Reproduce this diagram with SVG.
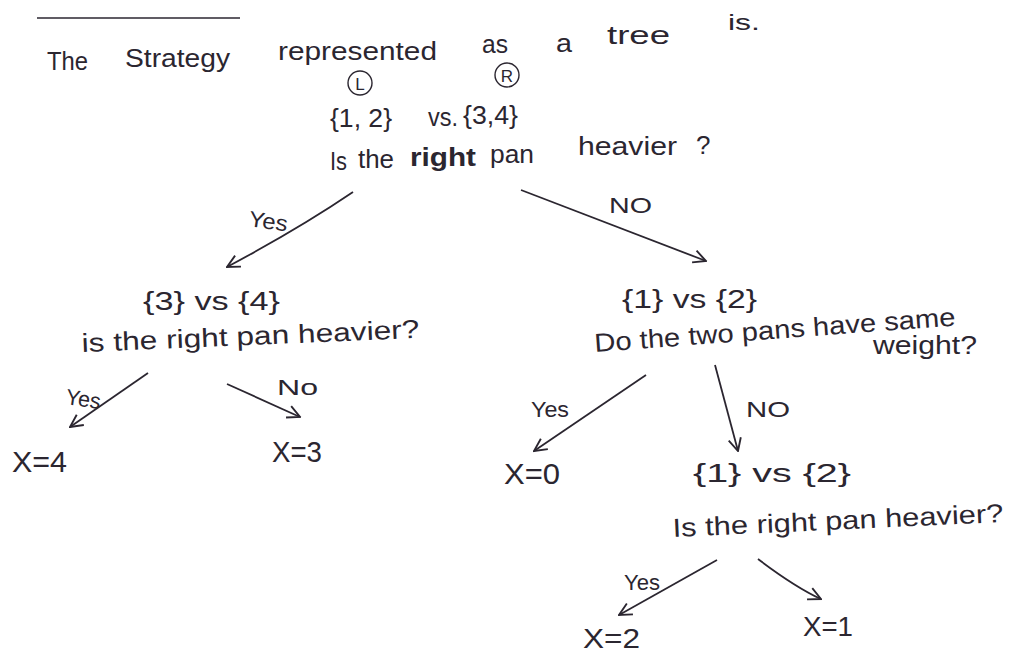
<svg xmlns="http://www.w3.org/2000/svg" width="1019" height="653" viewBox="0 0 1019 653">
<defs>
<marker id="ah" viewBox="0 0 12 12" refX="11" refY="6" markerWidth="15" markerHeight="15" markerUnits="userSpaceOnUse" orient="auto">
<path d="M1,1 L11,6 L1,11" fill="none" stroke="#2b2630" stroke-width="1.5"/>
</marker>
<style>
text{font-family:"Liberation Sans",Arial,sans-serif;fill:#2b2630;font-size:26px}
.s{font-size:22px}
.b{font-weight:bold}
.e{stroke:#2b2630;stroke-width:1.8;fill:none;marker-end:url(#ah)}
</style>
</defs>
<rect width="1019" height="653" fill="#ffffff"/>
<g id="title">
<line x1="37" y1="18" x2="240" y2="18" stroke="#2b2630" stroke-width="1.5"/>
<text x="47" y="70" textLength="41" lengthAdjust="spacingAndGlyphs">The</text>
<text x="125" y="67" textLength="105" lengthAdjust="spacingAndGlyphs">Strategy</text>
<text x="278" y="60" textLength="159" lengthAdjust="spacingAndGlyphs">represented</text>
<text x="482" y="53" textLength="26" lengthAdjust="spacingAndGlyphs">as</text>
<text x="556" y="52" textLength="16" lengthAdjust="spacingAndGlyphs">a</text>
<text x="607" y="44" textLength="63" lengthAdjust="spacingAndGlyphs">tree</text>
<text x="728" y="30" class="s" textLength="32" lengthAdjust="spacingAndGlyphs">is.</text>
</g>
<g id="n1">
<circle cx="360" cy="83" r="12" fill="none" stroke="#2b2630" stroke-width="1.4"/>
<text x="360" y="90" text-anchor="middle" style="font-size:17px">L</text>
<circle cx="507" cy="75" r="12" fill="none" stroke="#2b2630" stroke-width="1.4"/>
<text x="507" y="82" text-anchor="middle" style="font-size:17px">R</text>
<text x="330" y="127" textLength="62" lengthAdjust="spacingAndGlyphs">{1, 2}</text>
<text x="428" y="126" textLength="30" lengthAdjust="spacingAndGlyphs">vs.</text>
<text x="463" y="124" textLength="55" lengthAdjust="spacingAndGlyphs">{3,4}</text>
<text x="330" y="170" textLength="17" lengthAdjust="spacingAndGlyphs">Is</text>
<text x="358" y="168" textLength="36" lengthAdjust="spacingAndGlyphs">the</text>
<text x="410" y="166" class="b" textLength="66" lengthAdjust="spacingAndGlyphs">right</text>
<text x="490" y="163" textLength="44" lengthAdjust="spacingAndGlyphs">pan</text>
<text x="578" y="155" textLength="99" lengthAdjust="spacingAndGlyphs">heavier</text>
<text x="696" y="154">?</text>
</g>
<g id="n2">
<text x="143" y="310" textLength="137" lengthAdjust="spacingAndGlyphs">{3} vs {4}</text>
<text x="82" y="352" textLength="338" lengthAdjust="spacingAndGlyphs" transform="rotate(-2.4 82 352)">is the right pan heavier?</text>
</g>
<g id="n3">
<text x="622" y="308" textLength="135" lengthAdjust="spacingAndGlyphs">{1} vs {2}</text>
<text x="595" y="352" textLength="362" lengthAdjust="spacingAndGlyphs" transform="rotate(-4.2 595 352)">Do the two pans have same</text>
<text x="873" y="354" textLength="104" lengthAdjust="spacingAndGlyphs">weight?</text>
</g>
<g id="n4">
<text x="12" y="472" textLength="55" lengthAdjust="spacingAndGlyphs" style="font-size:30px">X=4</text>
</g>
<g id="n5">
<text x="272" y="462" textLength="50" lengthAdjust="spacingAndGlyphs" style="font-size:30px">X=3</text>
</g>
<g id="n6">
<text x="504" y="484" textLength="56" lengthAdjust="spacingAndGlyphs" style="font-size:30px">X=0</text>
</g>
<g id="n7">
<text x="693" y="482" textLength="158" lengthAdjust="spacingAndGlyphs">{1} vs {2}</text>
<text x="673" y="537" textLength="331" lengthAdjust="spacingAndGlyphs" transform="rotate(-2.6 673 537)">Is the right pan heavier?</text>
</g>
<g id="n8">
<text x="583" y="648" textLength="57" lengthAdjust="spacingAndGlyphs" style="font-size:28px">X=2</text>
</g>
<g id="n9">
<text x="803" y="636" textLength="50" lengthAdjust="spacingAndGlyphs" style="font-size:28px">X=1</text>
</g>
<g id="edges">
<path class="e" d="M353,192 Q300,228 227,267"/>
<path class="e" d="M521,190 L706,261"/>
<path class="e" d="M148,373 L70,427"/>
<path class="e" d="M227,384 L300,417"/>
<path class="e" d="M646,375 L534,451"/>
<path class="e" d="M715,365 L738,451"/>
<path class="e" d="M717,560 L619,615"/>
<path class="e" d="M758,559 Q795,587 821,599"/>
</g>
<g id="labels">
<text x="248" y="226" class="s" textLength="39" lengthAdjust="spacingAndGlyphs" transform="rotate(8 248 226)">Yes</text>
<text x="609" y="213" class="s" textLength="43" lengthAdjust="spacingAndGlyphs">NO</text>
<text x="65" y="404" class="s" textLength="35" lengthAdjust="spacingAndGlyphs" transform="rotate(8 65 404)">Yes</text>
<text x="277" y="395" class="s" textLength="41" lengthAdjust="spacingAndGlyphs">No</text>
<text x="531" y="417" class="s" textLength="38" lengthAdjust="spacingAndGlyphs">Yes</text>
<text x="746" y="417" class="s" textLength="44" lengthAdjust="spacingAndGlyphs">NO</text>
<text x="624" y="590" class="s" textLength="36" lengthAdjust="spacingAndGlyphs">Yes</text>
</g>
</svg>
